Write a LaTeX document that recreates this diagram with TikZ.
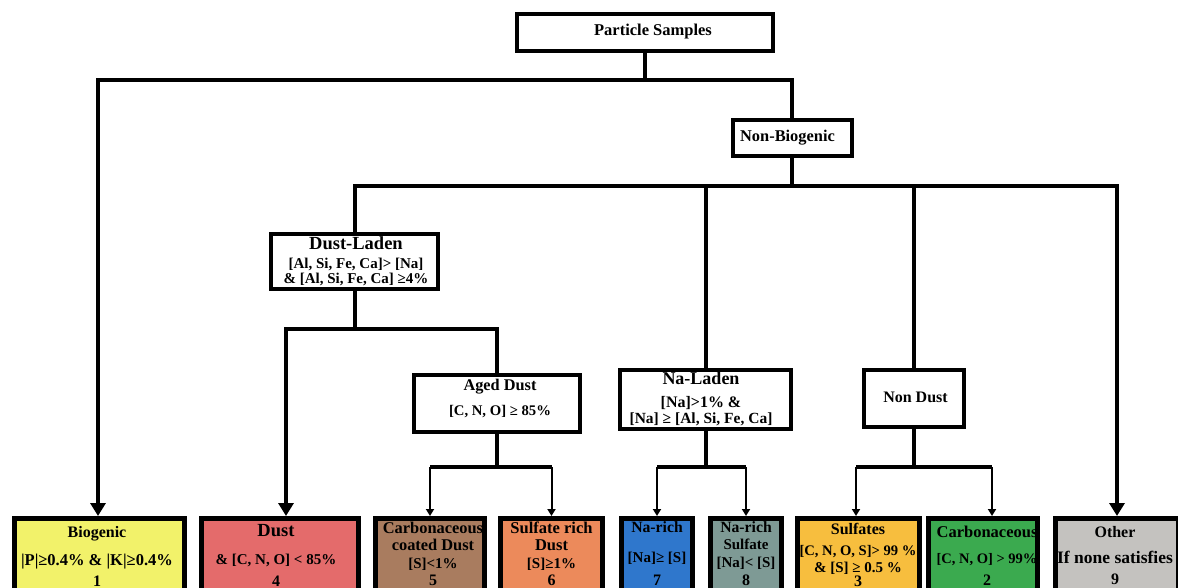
\documentclass[tikz,border=0pt]{standalone}
\usepackage{fontspec}
\setmainfont{Liberation Serif}
\usetikzlibrary{arrows.meta}
\definecolor{cbio}{RGB}{242,242,106}
\definecolor{cdust}{RGB}{228,107,107}
\definecolor{cccd}{RGB}{169,124,95}
\definecolor{csrd}{RGB}{236,138,91}
\definecolor{cnar}{RGB}{47,119,204}
\definecolor{cnrs}{RGB}{126,154,149}
\definecolor{csul}{RGB}{247,190,62}
\definecolor{ccarb}{RGB}{59,170,79}
\definecolor{coth}{RGB}{196,194,191}
\newcommand\fz[1]{\fontsize{#1}{0}\selectfont}
\newcommand\stk[2]{\parbox[t]{#1}{\centering\lineskiplimit=-1000pt\baselineskip=0pt\relax #2}}
\tikzset{
 box/.style={draw, line width=4pt, fill=white, inner sep=0pt},
 leaf/.style={draw, line width=5pt, anchor=north, minimum height=130pt, inner sep=0pt},
 txt/.style={anchor=base, inner sep=0pt, font=\bfseries},
 conn/.style={line width=4pt},
 bigarrow/.style={line width=4pt, -{Triangle[width=15pt,length=13pt]}},
 smallarrow/.style={line width=2pt, -{Triangle[width=8pt,length=7pt]}},
}
\begin{document}
\begin{tikzpicture}[x=1pt,y=-1pt]
\useasboundingbox (0,0) rectangle (1178,588);
\fill[white] (0,0) rectangle (1178,588);
% decision boxes
\node[box, minimum width=256pt, minimum height=37pt] (ps) at (645,32.5) {};
\node[box, minimum width=119pt, minimum height=36pt] (nb) at (792,138) {};
\node[box, minimum width=167pt, minimum height=55pt] (dl) at (354.5,261.5) {};
\node[box, minimum width=166pt, minimum height=57pt] (ad) at (497,403.5) {};
\node[box, minimum width=171pt, minimum height=59pt] (nl) at (705.5,399.5) {};
\node[box, minimum width=100pt, minimum height=57pt] (nd) at (914,398.5) {};
% leaf boxes
\node[leaf, fill=cbio, minimum width=170pt] (bio) at (99.5,516) {};
\node[leaf, fill=cdust, minimum width=157pt] (dust) at (280,516) {};
\node[leaf, fill=cccd, minimum width=109pt] (ccd) at (430,516) {};
\node[leaf, fill=csrd, minimum width=102pt] (srd) at (551.5,516) {};
\node[leaf, fill=cnar, minimum width=71pt] (nar) at (657,516) {};
\node[leaf, fill=cnrs, minimum width=71pt] (nrs) at (746,516) {};
\node[leaf, fill=csul, minimum width=122pt] (sul) at (858.5,516) {};
\node[leaf, fill=ccarb, minimum width=109pt] (carb) at (983,516) {};
\node[leaf, fill=coth, minimum width=123pt] (oth) at (1117,516) {};
% texts
\node[txt] (tps) at (653,35.5) {\fz{16.5}Particle Samples};
\node[txt] (tnb) at (787.5,142) {\fz{16.4}Non-Biogenic};
\node[txt] (tnd) at (915.5,402.5) {\fz{16}Non Dust};
\node[txt] (tdl) at (356,250) {\stk{170pt}{{\fz{18.5}Dust-Laden}\\[19pt]{\fz{15}[Al, Si, Fe, Ca]> [Na]}\\[14.5pt]{\fz{15}\& [Al, Si, Fe, Ca] ≥4\%}}};
\node[txt] (tad) at (500,390.5) {\stk{166pt}{{\fz{16.3}Aged Dust}\\[24.5pt]{\fz{14.7}[C, N, O] ≥ 85\%}}};
\node[txt] (tnl) at (701,384) {\stk{175pt}{{\fz{18}Na-Laden}\\[23.5pt]{\fz{16}[Na]>1\% \&}\\[16pt]{\fz{15.5}[Na] ≥ [Al, Si, Fe, Ca]}}};
\node[txt] (tbio) at (97,537.5) {\stk{175pt}{{\fz{16}Biogenic}\\[28pt]{\fz{16.5}|P|≥0.4\% \& |K|≥0.4\%}\\[20.5pt]{\fz{16}1}}};
\node[txt] (tdust) at (276,536.5) {\stk{160pt}{{\fz{18.5}Dust}\\[28pt]{\fz{15}\& [C, N, O] < 85\%}\\[21.5pt]{\fz{16}4}}};
\node[txt] (tccd) at (433,533.5) {\stk{120pt}{{\fz{16.4}Carbonaceous}\\[17pt]{\fz{16.4}coated Dust}\\[18pt]{\fz{15}[S]<1\%}\\[17pt]{\fz{16}5}}};
\node[txt] (tsrd) at (551.5,533.5) {\stk{110pt}{{\fz{16.5}Sulfate rich}\\[17pt]{\fz{16.5}Dust}\\[18pt]{\fz{15}[S]≥1\%}\\[17pt]{\fz{16}6}}};
\node[txt] (tnar) at (657,532.5) {\stk{80pt}{{\fz{15.7}Na-rich}\\[29.5pt]{\fz{15}[Na]≥ [S]}\\[23pt]{\fz{16}7}}};
\node[txt] (tnrs) at (746,532.5) {\stk{80pt}{{\fz{15.7}Na-rich}\\[17pt]{\fz{15}Sulfate}\\[18pt]{\fz{15}[Na]< [S]}\\[17.5pt]{\fz{16}8}}};
\node[txt] (tsul) at (858,534.5) {\stk{130pt}{{\fz{16}Sulfates}\\[21pt]{\fz{14.6}[C, N, O, S]> 99 \%}\\[17pt]{\fz{15}\& [S] ≥ 0.5 \%}\\[13.5pt]{\fz{16}3}}};
\node[txt] (tcarb) at (987,537) {\stk{120pt}{{\fz{16.5}Carbonaceous}\\[26pt]{\fz{14.5}[C, N, O] > 99\%}\\[22.5pt]{\fz{16}2}}};
\node[txt] (toth) at (1115,537.5) {\stk{130pt}{{\fz{16}Other}\\[26pt]{\fz{17.5}If none satisfies}\\[21pt]{\fz{16}9}}};
% connectors
\coordinate (j1) at (645,80);
\draw[conn] (ps.south) -- (j1);
\draw[bigarrow] (j1) -| ([xshift=-1.5pt]bio.north);
\draw[conn] (j1) -| (nb.north);
\coordinate (j2) at (792,186);
\draw[conn] (nb.south) -- (j2);
\draw[conn] (j2) -| (dl.north);
\draw[conn] (j2) -| (nl.north);
\draw[conn] (j2) -| (nd.north);
\draw[bigarrow] (j2) -| (oth.north);
\coordinate (j3) at (354.5,329);
\draw[conn] (dl.south) -- (j3);
\draw[bigarrow] (j3) -| ([xshift=6pt]dust.north);
\draw[conn] (j3) -| (ad.north);
\coordinate (j4) at (497,467);
\draw[conn] (ad.south) -- (j4);
\draw[conn] (j4 -| ccd.north) -- (j4 -| srd.north);
\draw[smallarrow] (j4 -| ccd.north) -- (ccd.north);
\draw[smallarrow] (j4 -| srd.north) -- (srd.north);
\coordinate (j5) at (705.5,467);
\draw[conn] (nl.south) -- (j5);
\draw[conn] (j5 -| nar.north) -- (j5 -| nrs.north);
\draw[smallarrow] (j5 -| nar.north) -- (nar.north);
\draw[smallarrow] (j5 -| nrs.north) -- (nrs.north);
\coordinate (j6) at (914,467);
\draw[conn] (nd.south) -- (j6);
\draw[conn] ([xshift=-2.5pt]j6 -| sul.north) -- ([xshift=9pt]j6 -| carb.north);
\draw[smallarrow] ([xshift=-2.5pt]j6 -| sul.north) -- ([xshift=-2.5pt]sul.north);
\draw[smallarrow] ([xshift=9pt]j6 -| carb.north) -- ([xshift=9pt]carb.north);
\end{tikzpicture}
\end{document}
